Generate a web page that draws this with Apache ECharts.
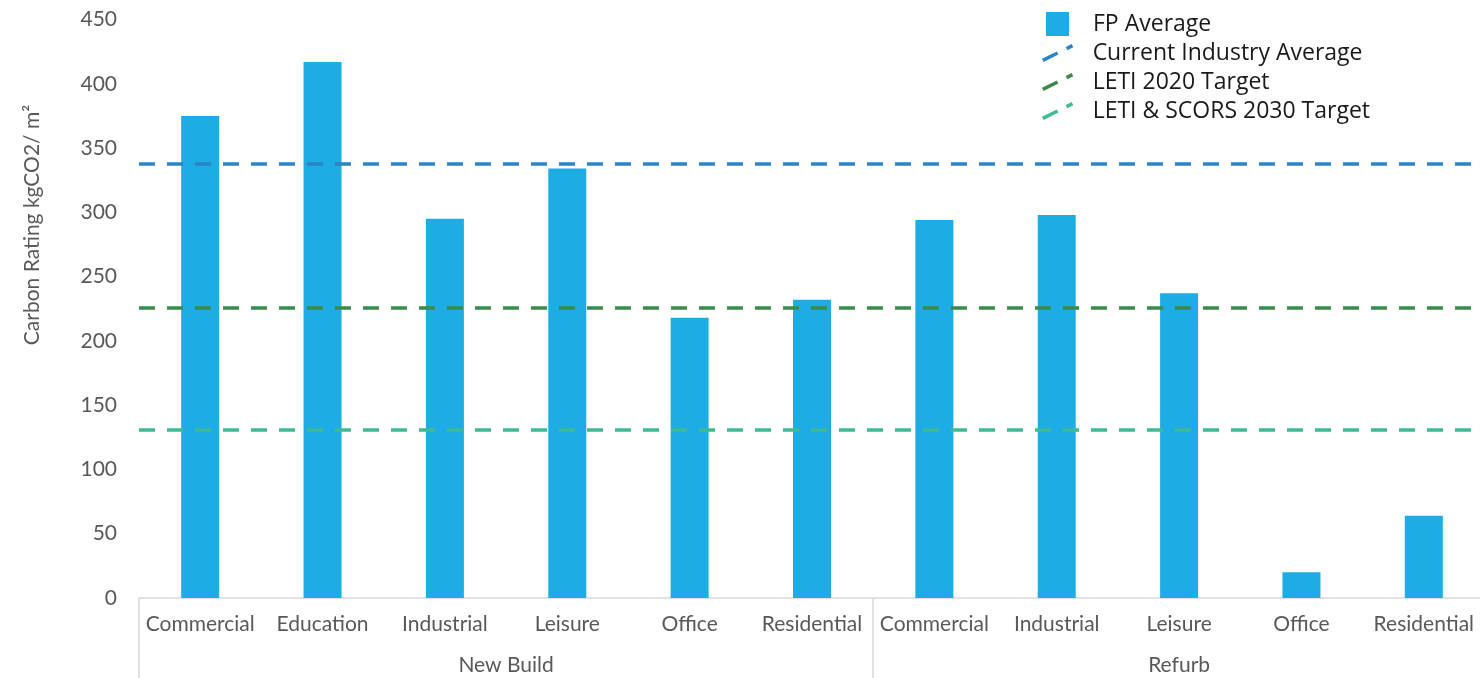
<!DOCTYPE html>
<html>
<head>
<meta charset="utf-8">
<script src="https://cdn.jsdelivr.net/npm/echarts@6/dist/echarts.min.js"></script>
<style>
    html, body { margin: 0; padding: 0; background: #fff; }
    #chart { width: 1480px; height: 678px; }
</style>
</head>
<body>
<div id="chart"></div>
<script>
// categories, grouped New Build / Refurb
const categories = ['Commercial', 'Education', 'Industrial', 'Leisure', 'Office', 'Residential',
    'Commercial', 'Industrial', 'Leisure', 'Office', 'Residential'];
const groupNames = ['New Build', 'Refurb'];
const groupSizes = [6, 5];
const fpAverage = [375, 417, 295, 334, 218, 232, 294, 298, 237, 20, 64];
const industryAverage = 338;
const leti2020 = 226;
const leti2030 = 131;
const yTicks = [0, 450, 50]; // min, max, interval

const textColor = '#595959';
const axisFont = 'Lato, "DejaVu Sans", sans-serif';
const legendFont = '"Open Sans", "Noto Sans", sans-serif';
// two short diagonal dashes, like the reference legend
const dashIcon = 'path://M1.8,17.6 L16.8,10.1 L15.2,6.9 L0.2,14.4 Z M25.8,5.6 L31.8,2.6 L30.2,-0.6 L24.2,2.4 Z';

// group boundaries and centres from the group sizes
const bounds = [0];
groupSizes.forEach(n => bounds.push(bounds[bounds.length - 1] + n));
const centres = groupSizes.map((n, i) => bounds[i] + n / 2);

function refLine (name, value, color) {
    return {
        name: name,
        type: 'line',
        data: [],
        itemStyle: { color: color },
        lineStyle: { color: color },
        markLine: {
            symbol: 'none',
            silent: true,
            label: { show: false },
            lineStyle: { color: color, width: 3.5, type: [16, 12] },
            data: [{ yAxis: value }]
        }
    };
}

const myChart = echarts.init(document.getElementById('chart'));
const option = {
    animation: false,
    grid: { left: 139, width: 1346, top: 19.5, bottom: 80, outerBoundsMode: 'none' },
    legend: [{
        orient: 'vertical',
        left: 1041,
        top: 7,
        itemWidth: 23,
        itemHeight: 24,
        textStyle: { fontFamily: legendFont, fontSize: 23, color: '#1a1a1a', padding: [0, 0, 0, 19] },
        data: [{ name: 'FP Average', icon: 'rect' }]
    }, {
        orient: 'vertical',
        left: 1037,
        top: 32,
        itemGap: -3,
        itemWidth: 32,
        itemHeight: 18,
        textStyle: { fontFamily: legendFont, fontSize: 23, lineHeight: 22, color: '#1a1a1a', padding: [0, 0, 10, 14] },
        data: [
            { name: 'Current Industry Average', icon: dashIcon },
            { name: 'LETI 2020 Target', icon: dashIcon },
            { name: 'LETI & SCORS 2030 Target', icon: dashIcon }
        ]
    }],
    graphic: [{
        type: 'text',
        x: 22,
        y: 225,
        rotation: Math.PI / 2,
        style: {
            text: 'Carbon Rating kgCO2/ m²',
            fontFamily: axisFont,
            fontSize: 21,
            fill: textColor,
            align: 'center',
            verticalAlign: 'top'
        }
    }],
    xAxis: [{
        type: 'category',
        data: categories,
        position: 'bottom',
        axisLine: { show: true, lineStyle: { color: '#d9d9d9', width: 1.5 } },
        axisTick: { show: false },
        axisLabel: { interval: 0, margin: 16, color: textColor, fontFamily: axisFont, fontSize: 21 }
    }, {
        type: 'value',
        min: 0,
        max: bounds[bounds.length - 1],
        position: 'bottom',
        splitLine: { show: false },
        axisLine: { show: false },
        axisTick: {
            show: true,
            customValues: bounds,
            length: 82,
            lineStyle: { color: '#d9d9d9', width: 1.5 }
        },
        axisLabel: {
            customValues: centres,
            margin: 57,
            color: textColor,
            fontFamily: axisFont,
            fontSize: 21,
            formatter: function (v) {
                return groupNames[centres.indexOf(v)] || '';
            }
        }
    }],
    yAxis: {
        type: 'value',
        min: yTicks[0],
        max: yTicks[1],
        interval: yTicks[2],
        axisLine: { show: false },
        axisTick: { show: false },
        splitLine: { show: false },
        axisLabel: { margin: 22, color: textColor, fontFamily: axisFont, fontSize: 21 }
    },
    series: [
        {
            name: 'FP Average',
            type: 'bar',
            xAxisIndex: 0,
            barWidth: 38,
            itemStyle: { color: '#1dade4' },
            data: fpAverage
        },
        refLine('Current Industry Average', industryAverage, '#2b84c6'),
        refLine('LETI 2020 Target', leti2020, '#3a8a4a'),
        refLine('LETI & SCORS 2030 Target', leti2030, '#3dbb94')
    ]
};
myChart.setOption(option);
window.addEventListener('resize', () => {
    myChart.resize();
});
</script>
</body>
</html>
